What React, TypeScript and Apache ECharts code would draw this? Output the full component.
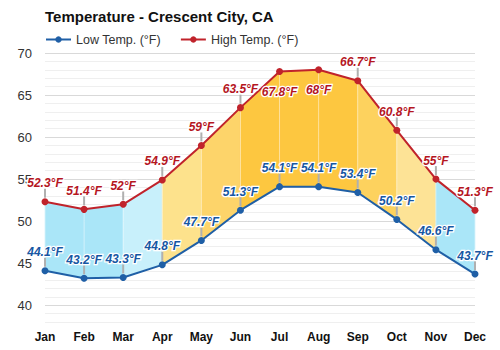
import React, { useEffect, useRef } from "react";
import * as echarts from "echarts";

const months = ["Jan", "Feb", "Mar", "Apr", "May", "Jun", "Jul", "Aug", "Sep", "Oct", "Nov", "Dec"];
const lowTemps = [44.1, 43.2, 43.3, 44.8, 47.7, 51.3, 54.1, 54.1, 53.4, 50.2, 46.6, 43.7];
const highTemps = [52.3, 51.4, 52, 54.9, 59, 63.5, 67.8, 68, 66.7, 60.8, 55, 51.3];
const highLabelBelow = [false, false, false, false, false, false, true, true, false, false, false, false];
const bandColors = [
  "#aae6f8", "#aae6f8", "#c8f0fb", "#fde28c", "#fdd46a", "#fdc740",
  "#fdc740", "#fdc740", "#fdd25e", "#fde396", "#aae6f8",
];

const FONT = "'Liberation Sans', Arial, sans-serif";

export default function App() {
  const ref = useRef<HTMLDivElement>(null);
  useEffect(() => {
    if (!ref.current) return;
    const chart = echarts.init(ref.current, null, { renderer: "svg" });
    const bandData = bandColors.map((_, i) => [i, lowTemps[i], highTemps[i], lowTemps[i + 1], highTemps[i + 1]]);
    const stickData = months.map((_, i) => [i, lowTemps[i], highTemps[i], highLabelBelow[i] ? 1 : 0]);
    const labelStyle = (color: string) => ({
      show: true,
      position: "top" as const,
      distance: 9,
      formatter: (p: any) => `${p.value}°F`,
      color,
      fontFamily: FONT,
      fontSize: 12,
      fontWeight: "bold" as const,
      fontStyle: "italic" as const,
      textBorderColor: "#fff",
      textBorderWidth: 2.5,
    });
    chart.setOption({
      animation: false,
      backgroundColor: "#fff",
      title: {
        text: "Temperature - Crescent City, CA",
        left: 40,
        top: 4,
        textStyle: { fontFamily: FONT, fontSize: 15, fontWeight: "bold", color: "#111" },
      },
      legend: {
        left: 40,
        top: 28,
        itemWidth: 25,
        itemHeight: 8,
        itemGap: 19,
        textStyle: { fontFamily: FONT, fontSize: 12.5, color: "#333" },
        data: ["Low Temp. (°F)", "High Temp. (°F)"],
      },
      grid: { left: 45, right: 25, top: 53, bottom: 28 },
      xAxis: {
        type: "category",
        data: months,
        boundaryGap: false,
        axisLine: { show: false },
        axisTick: { show: false },
        splitLine: { show: false },
        axisLabel: { fontFamily: FONT, fontSize: 12, fontWeight: "bold", color: "#111", margin: 9 },
      },
      yAxis: {
        type: "value",
        min: 38,
        max: 70,
        interval: 1,
        axisLine: { show: false },
        axisTick: { show: false },
        axisLabel: {
          fontFamily: FONT,
          fontSize: 13,
          color: "#333",
          margin: 13,
          formatter: (v: number) => (v % 5 === 0 ? String(v) : ""),
        },
        splitLine: {
          lineStyle: { color: ["#efefef", "#efefef", "#d9d9d9", "#efefef", "#efefef"], width: 1 },
        },
      },
      series: [
        {
          type: "custom",
          name: "bands",
          silent: true,
          z: 1,
          data: bandData,
          renderItem: (_params: any, api: any) => {
            const i = api.value(0);
            const p1 = api.coord([i, api.value(1)]);
            const p2 = api.coord([i + 1, api.value(3)]);
            const p3 = api.coord([i + 1, api.value(4)]);
            const p4 = api.coord([i, api.value(2)]);
            return {
              type: "polygon",
              shape: { points: [p1, p2, p3, p4] },
              style: { fill: bandColors[i], stroke: bandColors[i], lineWidth: 0.5 },
            };
          },
        },
        {
          type: "custom",
          name: "sticks",
          silent: true,
          z: 2,
          data: stickData,
          renderItem: (_params: any, api: any) => {
            const i = api.value(0);
            const lo = api.coord([i, api.value(1)]);
            const hi = api.coord([i, api.value(2)]);
            const below = api.value(3) === 1;
            const children: any[] = [
              {
                type: "line",
                shape: { x1: lo[0], y1: lo[1], x2: hi[0], y2: hi[1] },
                style: { stroke: "rgba(255,255,255,0.45)", lineWidth: 1 },
              },
              {
                type: "line",
                shape: { x1: lo[0], y1: lo[1] - 4, x2: lo[0], y2: lo[1] - 13 },
                style: { stroke: "#b0b0b0", lineWidth: 2 },
              },
            ];
            if (!below) {
              children.push({
                type: "line",
                shape: { x1: hi[0], y1: hi[1] - 4, x2: hi[0], y2: hi[1] - 13 },
                style: { stroke: "#b0b0b0", lineWidth: 2 },
              });
            }
            return { type: "group", children };
          },
        },
        {
          type: "line",
          name: "Low Temp. (°F)",
          data: lowTemps,
          z: 5,
          symbol: "circle",
          symbolSize: 7,
          color: "#1f5fa6",
          lineStyle: { color: "#1f5fa6", width: 2 },
          itemStyle: { color: "#1f5fa6" },
          label: labelStyle("#1757a3"),
        },
        {
          type: "line",
          name: "High Temp. (°F)",
          data: highTemps.map((v, i) =>
            highLabelBelow[i] ? { value: v, label: { position: "bottom", distance: 11 } } : v
          ),
          z: 5,
          symbol: "circle",
          symbolSize: 7,
          color: "#c0232b",
          lineStyle: { color: "#c0232b", width: 2 },
          itemStyle: { color: "#c0232b" },
          label: labelStyle("#b5161f"),
        },
      ],
    });
    return () => chart.dispose();
  }, []);
  return <div ref={ref} style={{ position: "absolute", left: 0, top: 0, width: 500, height: 350 }} />;
}
